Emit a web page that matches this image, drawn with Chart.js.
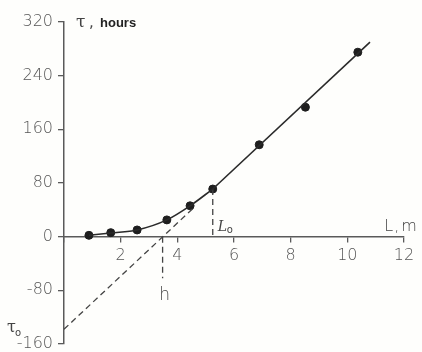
<!DOCTYPE html>
<html>
<head>
<meta charset="utf-8">
<script src="https://cdn.jsdelivr.net/npm/chart.js@4/dist/chart.umd.min.js"></script>
<style>
  html, body { margin: 0; padding: 0; background: #fefefc; }
  #wrap { width: 422px; height: 352px; }
</style>
</head>
<body>
<div id="wrap"><canvas id="c" width="422" height="352"></canvas></div>
<script>
const measuredL = [0.88, 1.65, 2.58, 3.63, 4.45, 5.25, 6.89, 8.52, 10.37];
const measuredTau = [2, 6, 10, 25, 46, 71, 137, 193, 275];

// smooth curve through the lower points, then the straight part
const curveL = [0.88, 1.65, 2.58, 3.63, 4.45, 5.25];
const curveTau = [2, 5.5, 10, 25, 46, 71];
const lineL = [5.25, 10.8];
const lineTau = [71, 290];

// dashed helpers: extrapolation to tau0, drop at h, drop at L0
const extraL = [0, 4.6];
const extraTau = [-138, 44];
const hL = [3.48, 3.48];
const hTau = [0, -62];
const l0L = [5.25, 5.25];
const l0Tau = [71, 0];

// axis ticks
const xTicks = [0, 2, 4, 6, 8, 10, 12];
const yTicks = [-160, -80, 0, 80, 160, 240, 320];

const pts = (xs, ys) => xs.map((x, i) => ({ x: x, y: ys[i] }));

const INK = '#2a2a2a';
const AXIS = '#5a5a5a';
const TICKFONT = { family: 'DejaVu Sans', size: 16, weight: 200 };

// labels drawn on top: tau, hours / L, m / L0 / h / tau0
const labelsPlugin = {
  id: 'labels',
  afterDraw(chart) {
    const ctx = chart.ctx;
    const xs = chart.scales.x, ys = chart.scales.y;
    ctx.save();
    ctx.fillStyle = '#444';
    ctx.textBaseline = 'middle';

    // y axis title
    const ty = ys.getPixelForValue(320) + 1;
    ctx.font = '17px "DejaVu Serif"';
    ctx.textAlign = 'left';
    ctx.fillText('\u03c4', xs.left + 12, ty);
    ctx.font = '15px "DejaVu Sans"';
    ctx.fillText(',', xs.left + 25, ty);
    ctx.fillStyle = '#222';
    ctx.font = 'bold 13px "Liberation Sans"';
    ctx.fillText('hours', xs.left + 36, ty);

    // x axis title "L, m"
    ctx.fillStyle = '#444';
    const y0 = ys.getPixelForValue(0);
    const lx = xs.getPixelForValue(11.3);
    ctx.font = '200 16px "DejaVu Sans"';
    ctx.fillText('L', lx, y0 - 10);
    ctx.fillText(',', lx + 10, y0 - 10);
    ctx.fillText('m', lx + 17, y0 - 10);

    // L0
    ctx.font = 'italic 14px "DejaVu Serif"';
    ctx.fillText('L', xs.getPixelForValue(5.25) + 5, y0 - 9);
    ctx.font = '10px "DejaVu Sans"';
    ctx.fillText('o', xs.getPixelForValue(5.25) + 14, y0 - 6);

    // h
    ctx.font = '200 17px "DejaVu Sans"';
    ctx.textAlign = 'center';
    ctx.fillText('h', xs.getPixelForValue(3.55), ys.getPixelForValue(-88));

    // tau0
    ctx.font = '16px "DejaVu Serif"';
    ctx.textAlign = 'left';
    const t0 = ys.getPixelForValue(-138);
    ctx.fillText('\u03c4', 7, t0 - 1);
    ctx.font = '10px "DejaVu Sans"';
    ctx.fillText('o', 15, t0 + 4);
    ctx.restore();
  }
};

const dashed = (data) => ({
  type: 'line',
  data: data,
  borderColor: '#444',
  borderWidth: 1.3,
  borderDash: [6, 4],
  pointRadius: 0,
  fill: false,
});

new Chart(document.getElementById('c'), {
  type: 'scatter',
  data: {
    datasets: [
      {
        type: 'line',
        data: pts(curveL, curveTau),
        borderColor: INK,
        borderWidth: 1.6,
        cubicInterpolationMode: 'monotone',
        pointRadius: 0,
        fill: false,
      },
      {
        type: 'line',
        data: pts(lineL, lineTau),
        borderColor: INK,
        borderWidth: 1.6,
        pointRadius: 0,
        fill: false,
      },
      dashed(pts(extraL, extraTau)),
      dashed(pts(hL, hTau)),
      dashed(pts(l0L, l0Tau)),
      {
        data: pts(measuredL, measuredTau),
        backgroundColor: '#1e1e1e',
        borderColor: '#1e1e1e',
        pointRadius: 4,
      },
    ],
  },
  options: {
    responsive: false,
    animation: false,
    events: [],
    layout: { padding: { left: 8, top: 22, right: 18, bottom: 8 } },
    plugins: { legend: { display: false }, tooltip: { enabled: false } },
    scales: {
      x: {
        type: 'linear',
        min: 0,
        max: 12,
        position: { y: 0 },
        afterFit: (axis) => {
          axis.height = 0;
          axis.paddingLeft = 0;
          axis.paddingRight = 0;
        },
        afterBuildTicks: (axis) => { axis.ticks = xTicks.map(v => ({ value: v })); },
        ticks: {
          color: '#555',
          font: TICKFONT,
          padding: 5,
          maxRotation: 0,
          callback: (v) => (v === 0 ? '' : v),
        },
        grid: { drawOnChartArea: false, drawTicks: true, tickLength: 5, color: AXIS, lineWidth: 1.3 },
        border: { display: true, color: AXIS, width: 1.5 },
      },
      y: {
        type: 'linear',
        min: -160,
        max: 320,
        position: 'left',
        afterFit: (axis) => {
          axis.width = 56;
          axis.paddingTop = 0;
          axis.paddingBottom = 0;
        },
        afterBuildTicks: (axis) => { axis.ticks = yTicks.map(v => ({ value: v })); },
        ticks: { color: '#555', font: TICKFONT, padding: 5 },
        grid: { drawOnChartArea: false, drawTicks: true, tickLength: 6, color: AXIS, lineWidth: 1.3 },
        border: { display: true, color: AXIS, width: 1.5 },
      },
    },
  },
  plugins: [labelsPlugin],
});
</script>
</body>
</html>
